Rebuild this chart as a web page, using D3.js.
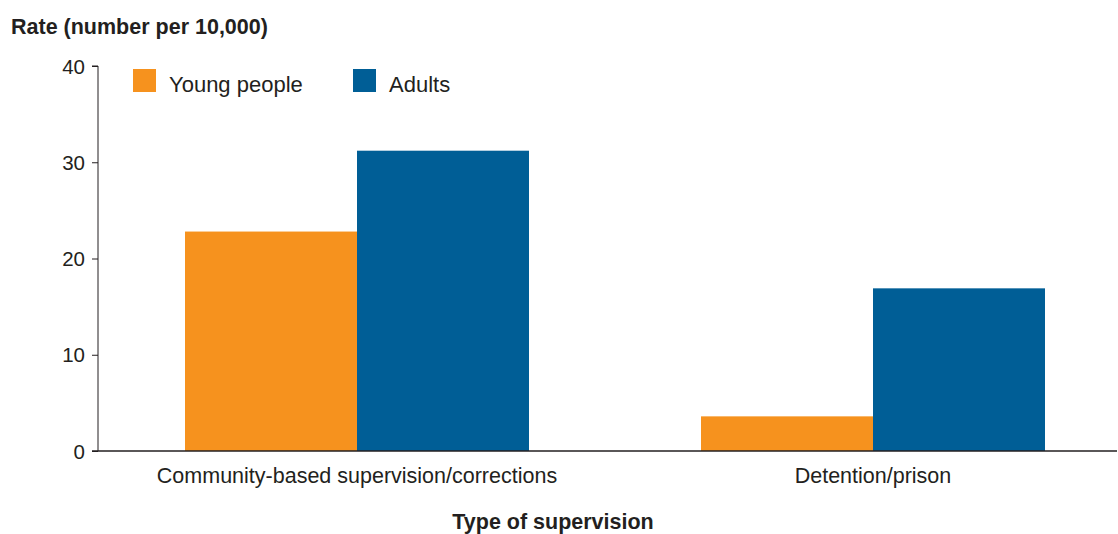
<!DOCTYPE html>
<html><head><meta charset="utf-8">
<script src="https://cdn.jsdelivr.net/npm/d3@7"></script>
<style>body{margin:0;background:#fff;}text{font-family:"Liberation Sans",Arial,sans-serif;fill:#231f20;}</style>
</head><body>
<svg id="c" width="1118" height="534"></svg>
<script>
const categories = ["Community-based supervision/corrections", "Detention/prison"];
const seriesNames = ["Young people", "Adults"];
const youngPeople = [22.8, 3.6];
const adults = [31.2, 16.9];
const yTicks = [0, 10, 20, 30, 40];
const colors = ["#F6921E", "#005E96"];

const svg = d3.select("#c");
const y = d3.scaleLinear().domain([0, 40]).range([451, 66]);
const x = d3.scaleBand().domain(categories).range([99, 1131]).paddingInner(1/3).paddingOuter(1/6);
const xs = d3.scaleBand().domain(seriesNames).range([0, x.bandwidth()]);
const data = categories.map((c, i) => ({cat: c, vals: [youngPeople[i], adults[i]]}));

const g = svg.append("g");
data.forEach(d => {
  d.vals.forEach((v, j) => {
    g.append("rect")
      .attr("x", x(d.cat) + xs(seriesNames[j]))
      .attr("y", y(v))
      .attr("width", xs.bandwidth())
      .attr("height", y(0) - y(v))
      .attr("fill", colors[j]);
  });
});

// y axis
const ya = svg.append("g").attr("transform", "translate(98,0)")
  .call(d3.axisLeft(y).tickValues(yTicks).tickSize(6).tickPadding(7));
ya.select(".domain").attr("stroke", "#231f20").attr("d", "M-6," + y(40) + "H0V" + y(0));
ya.selectAll(".tick line").attr("stroke", "#231f20");
ya.selectAll(".tick text").style("font-size", "20.5px").attr("fill", "#231f20").attr("dy", "0.35em");

// x axis line
svg.append("line").attr("x1", 92).attr("x2", 1117).attr("y1", y(0)).attr("y2", y(0))
  .attr("stroke", "#231f20").attr("stroke-width", 1.3);

// category labels
categories.forEach(c => {
  svg.append("text").attr("x", x(c) + x.bandwidth() / 2).attr("y", 483)
    .attr("text-anchor", "middle").style("font-size", "21.5px").text(c);
});

// titles
svg.append("text").attr("x", 11).attr("y", 34).style("font-size", "21.5px").style("font-weight", "bold").text("Rate (number per 10,000)");
svg.append("text").attr("x", 553).attr("y", 529).attr("text-anchor", "middle").style("font-size", "21.5px").style("font-weight", "bold").text("Type of supervision");

// legend
const legX = [133, 353];
seriesNames.forEach((s, j) => {
  svg.append("rect").attr("x", legX[j]).attr("y", 69).attr("width", 23).attr("height", 23).attr("fill", colors[j]);
  svg.append("text").attr("x", legX[j] + 36).attr("y", 92).style("font-size", "22px").text(s);
});
</script>
</body></html>
